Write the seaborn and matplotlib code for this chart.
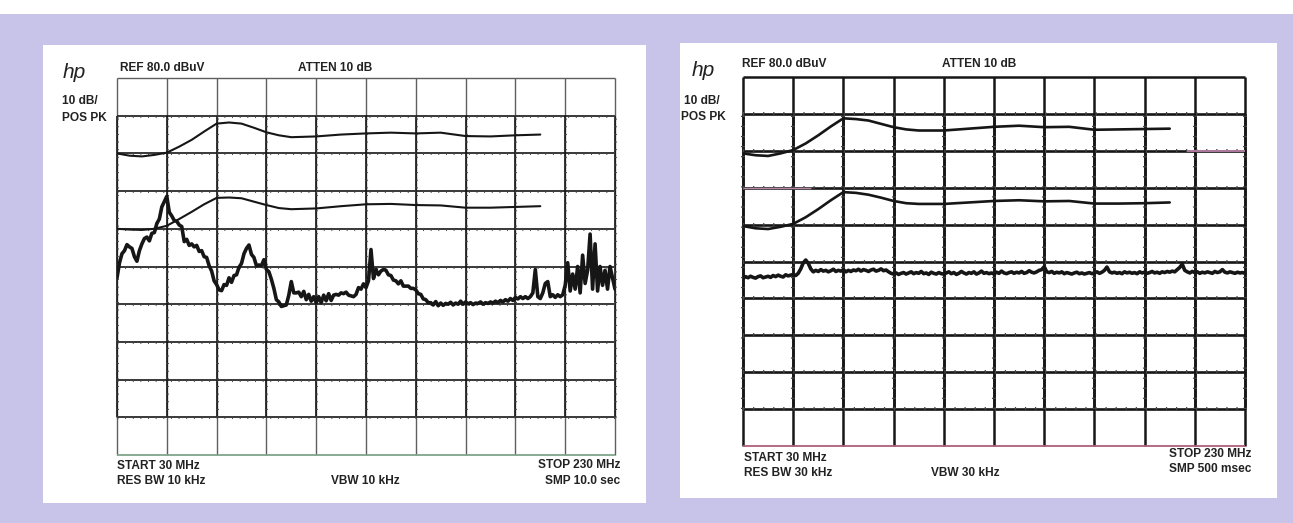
import numpy as np
import pandas as pd
import matplotlib
matplotlib.use("Agg")
import matplotlib.pyplot as plt
import seaborn as sns
from matplotlib.patches import Rectangle

# ---------------- data ----------------
freq_ticks = [30, 50, 70, 90, 110, 130, 150, 170, 190, 210, 230]      # MHz, 20 MHz/div
level_ticks = [-20, -10, 0, 10, 20, 30, 40, 50, 60, 70, 80]          # dBuV, 10 dB/div

limit_freq = [30, 35, 40, 45, 50, 55, 60, 65, 70, 75, 80, 85, 90, 95, 100,
              110, 120, 130, 140, 150, 160, 170, 180, 190, 200]

left_limit_upper = [60.0, 59.4, 59.2, 59.6, 60.2, 61.8, 63.6, 65.8, 67.9, 68.2, 67.9, 66.8, 65.6, 64.8, 64.3,
                    64.5, 65.0, 65.3, 65.5, 65.3, 65.5, 64.6, 64.5, 64.8, 65.0]
left_limit_lower = [40.0, 39.8, 39.7, 40.0, 40.8, 42.6, 44.5, 46.5, 48.2, 48.3, 48.1, 47.2, 46.3, 45.5, 45.2,
                    45.4, 46.0, 46.5, 46.6, 46.3, 46.2, 45.6, 45.6, 45.8, 46.0]

right_limit_upper = [59.3, 58.8, 58.6, 59.3, 60.2, 62.0, 64.2, 66.6, 68.8, 68.6, 68.2, 67.3, 66.4, 65.8, 65.5,
                     65.5, 66.0, 66.5, 66.8, 66.4, 66.5, 65.7, 65.8, 65.9, 66.0]
right_limit_lower = [39.6, 39.0, 38.8, 39.4, 40.2, 42.0, 44.2, 46.6, 48.8, 48.6, 48.1, 47.3, 46.4, 45.8, 45.6,
                     45.6, 46.0, 46.4, 46.6, 46.3, 46.4, 45.7, 45.7, 45.8, 46.0]

# sweep traces, one point per MHz from 30 to 230 MHz
left_trace = [
    27.0, 31.0, 33.4, 34.2, 35.8, 35.2, 34.8, 32.6, 31.4, 34.2,
    36.0, 37.4, 37.8, 36.8, 38.8, 39.0, 41.4, 42.6, 45.8, 47.2,
    48.6, 44.4, 43.4, 42.2, 42.0, 41.0, 40.6, 36.6, 37.2, 35.6,
    36.0, 35.2, 35.6, 34.0, 34.2, 32.6, 32.4, 30.2, 28.8, 26.2,
    25.2, 23.8, 23.6, 25.2, 25.0, 27.0, 25.8, 27.6, 27.8, 29.8,
    30.8, 33.4, 34.8, 35.7, 33.2, 32.4, 30.2, 30.4, 30.2, 31.8,
    29.2, 28.6, 26.6, 24.2, 21.2, 20.6, 19.4, 19.6, 19.8, 22.4,
    26.0, 23.0, 23.0, 23.2, 22.0, 23.4, 21.2, 22.6, 20.8, 22.0,
    20.4, 22.0, 20.4, 22.4, 20.9, 22.8, 21.0, 22.4, 22.6, 22.4,
    23.0, 22.8, 23.2, 22.4, 22.2, 22.0, 22.6, 24.4, 24.0, 25.4,
    24.4, 26.2, 34.5, 26.8, 29.2, 27.8, 28.8, 29.2, 29.0, 27.8,
    27.6, 26.4, 26.2, 25.4, 26.2, 24.8, 24.8, 24.8, 24.2, 24.2,
    23.8, 22.8, 22.6, 21.4, 21.2, 20.4, 20.4, 19.8, 20.7, 19.6,
    20.3, 19.7, 20.2, 20.0, 20.5, 19.8, 20.3, 20.0, 20.8, 20.0,
    20.6, 20.1, 20.4, 19.9, 20.3, 20.2, 20.6, 20.0, 20.4, 20.2,
    20.6, 20.3, 20.8, 20.4, 21.0, 20.6, 21.2, 20.8, 21.5, 21.0,
    21.8, 21.4, 22.0, 21.5, 22.0, 21.5, 22.0, 23.0, 29.2, 22.0,
    21.5, 23.0, 25.5, 26.0, 22.0, 22.5, 21.8, 22.5, 22.0, 22.5,
    25.0, 31.0, 23.5, 28.0, 24.0, 30.0, 23.0, 33.0, 25.5, 29.0,
    38.6, 24.0, 36.0, 23.5, 30.0, 25.0, 29.0, 24.0, 30.0, 27.0,
    24.0]

right_trace = [
    25.4, 25.9, 25.6, 26.0, 25.7, 25.5, 25.9, 26.1, 25.6, 25.8,
    26.0, 25.7, 26.2, 25.9, 26.3, 26.0, 25.8, 26.4, 26.1, 26.3,
    26.5, 26.2, 26.8, 28.0, 29.6, 30.4, 29.5, 28.0, 27.2, 27.6,
    27.3, 27.8, 27.4, 27.6, 27.2, 27.5, 27.9, 27.3, 27.6, 27.4,
    27.8, 27.2, 27.6, 27.3, 27.7, 27.5, 27.9, 27.4, 27.8, 27.6,
    27.3, 27.7, 27.9, 27.4, 27.6, 28.0, 27.5, 27.7, 27.2, 26.8,
    26.6, 26.9, 26.5, 26.8, 27.0, 26.6, 26.9, 27.2, 26.7, 27.0,
    26.8, 27.3, 26.7, 26.9, 26.5, 27.1, 26.8, 26.6, 27.0, 26.7,
    26.6, 26.9, 27.2, 26.7, 27.0, 26.5, 26.8, 27.3, 26.9, 26.6,
    27.0, 26.8, 27.2, 26.6, 26.9, 27.4, 26.8, 27.0, 26.7, 26.9,
    26.6, 27.1, 26.8, 27.4, 26.9, 26.7, 27.0, 27.2, 26.8, 27.1,
    26.9, 27.3, 26.8, 27.0, 27.5, 27.1, 26.9, 27.2, 27.6, 27.8,
    28.6, 27.2, 27.0, 27.3, 26.8, 27.1, 26.9, 27.2, 26.7, 27.0,
    26.8, 26.6, 26.9, 27.1, 26.7, 26.9, 26.6, 26.8, 27.0, 26.7,
    26.9, 27.2, 26.8, 27.1, 27.6, 28.5, 27.2, 26.9, 27.1, 26.8,
    27.0, 26.7, 27.2, 26.9, 27.1, 26.8, 27.0, 26.7, 27.2, 26.9,
    27.1, 26.8, 27.0, 27.3, 26.9, 27.1, 26.8, 27.2, 27.0, 27.3,
    27.1, 27.4, 27.2, 27.8, 28.4, 29.3, 27.6, 27.2, 26.9, 27.3,
    27.0, 27.2, 26.8, 27.1, 26.9, 27.2, 27.0, 26.8, 27.3, 27.0,
    27.2, 27.8, 27.1, 26.9, 27.2, 27.0, 26.8, 27.1, 26.9, 27.0,
    26.8]

left_header = ["REF 80.0 dBuV", "ATTEN 10 dB", "10 dB/", "POS PK"]
left_footer = ["START 30 MHz", "RES BW 10 kHz", "VBW 10 kHz", "STOP 230 MHz", "SMP 10.0 sec"]
right_header = ["REF 80.0 dBuV", "ATTEN 10 dB", "10 dB/", "POS PK"]
right_footer = ["START 30 MHz", "RES BW 30 kHz", "VBW 30 kHz", "STOP 230 MHz", "SMP 500 msec"]

# ---------------- figure ----------------
sns.set_theme(style="white")
plt.rcParams['font.family'] = ['Liberation Sans', 'DejaVu Sans']

W, H = 1293, 523
LAV = "#c7c3e9"
INK = "#161616"
fig = plt.figure(figsize=(W / 100, H / 100), dpi=100)
fig.patch.set_facecolor(LAV)


def fx(x):
    return x / W


def fy(y):
    return 1 - y / H


def rect(x0, y0, x1, y1, color):
    fig.patches.append(Rectangle((fx(x0), fy(y1)), (x1 - x0) / W, (y1 - y0) / H,
                                 transform=fig.transFigure, facecolor=color,
                                 edgecolor="none", zorder=-5))


rect(0, 0, W, 14, "white")          # white strip at top of scan
rect(43, 45, 646, 503, "white")     # left panel
rect(680, 43, 1277, 498, "white")   # right panel


def panel(box, traces, limits, grid_lw, lim_lw, trace_lw, edge_tint, outer_color, outer_lw):
    x0, y0, x1, y1 = box
    ax = fig.add_axes([fx(x0), fy(y1), (x1 - x0) / W, (y1 - y0) / H])
    ax.set_zorder(5)
    ax.patch.set_alpha(0)
    for s in ax.spines.values():
        s.set_visible(False)
    ax.set_xlim(freq_ticks[0], freq_ticks[-1])
    ax.set_ylim(level_ticks[0], level_ticks[-1])
    ax.set_xticks([])
    ax.set_yticks([])
    # outer box extension rows
    ax.vlines(freq_ticks, level_ticks[0], level_ticks[-1], color=outer_color, lw=outer_lw, clip_on=False, zorder=1)
    ax.hlines([level_ticks[-1]], freq_ticks[0], freq_ticks[-1], color=outer_color,
              lw=outer_lw, clip_on=False, zorder=1)
    ax.hlines([level_ticks[0]], freq_ticks[0], freq_ticks[-1], color=edge_tint,
              lw=1.3, clip_on=False, zorder=1)
    # main graticule
    ax.vlines(freq_ticks, level_ticks[1], level_ticks[-2], color=INK, lw=grid_lw, clip_on=False, zorder=2)
    ax.hlines(level_ticks[1:-1], freq_ticks[0], freq_ticks[-1], color=INK, lw=grid_lw, clip_on=False, zorder=2)
    # graticule minor-tick texture
    ax.vlines(freq_ticks, level_ticks[1], level_ticks[-2], color="#444444", lw=grid_lw + 1.0,
              linestyles=(0, (0.3, 2.2)), clip_on=False, zorder=2)
    ax.hlines(level_ticks[1:-1], freq_ticks[0], freq_ticks[-1], color="#444444", lw=grid_lw + 1.0,
              linestyles=(0, (0.3, 2.2)), clip_on=False, zorder=2)
    for lim in limits:
        sns.lineplot(x=limit_freq, y=lim, ax=ax, color=INK, lw=lim_lw, legend=False, zorder=3)
    for tr in traces:
        f = np.linspace(freq_ticks[0], freq_ticks[-1], len(tr))
        sns.lineplot(x=f, y=tr, ax=ax, color=INK, lw=trace_lw, legend=False, zorder=4)
    ax.set_xlabel("")
    ax.set_ylabel("")
    return ax


panel((117, 78, 615, 455), [left_trace], [left_limit_upper, left_limit_lower],
      1.2, 1.5, 2.6, "#7fa58a", "#5e5e5e", 1.0)
axr = panel((743, 77, 1245, 446), [right_trace], [right_limit_upper, right_limit_lower],
            1.9, 1.9, 2.6, "#b0607a", INK, 1.8)
# scanner colour fringes on the right screen
axr.hlines([level_ticks[7]], freq_ticks[0], freq_ticks[1] + 7, color="#b98aa8", lw=1.0, clip_on=False, zorder=2.5)
axr.hlines([level_ticks[8]], freq_ticks[-2] - 3, freq_ticks[-1], color="#b07a9e", lw=1.4, clip_on=False, zorder=2.5)

FS = 8.6
TXT = "#222222"


def t(x, y, s, ha="left", **kw):
    fig.text(fx(x), fy(y), s, ha=ha, va="center", fontsize=FS, fontweight="bold", color=TXT, **kw)


def hp(x, y):
    fig.text(fx(x), fy(y), "hp", ha="left", va="center", fontsize=15, fontstyle="italic",
             family=["Liberation Sans"], color=TXT)


# left panel texts
hp(63, 72)
t(120, 68, left_header[0])
t(298, 68, left_header[1])
t(62, 101, left_header[2])
t(62, 118, left_header[3])
t(117, 466, left_footer[0])
t(117, 481, left_footer[1])
t(331, 481, left_footer[2])
t(620, 465, left_footer[3], ha="right")
t(620, 481, left_footer[4], ha="right")

# right panel texts
hp(692, 70)
t(742, 64, right_header[0])
t(942, 64, right_header[1])
t(684, 101, right_header[2])
t(681, 117, right_header[3])
t(744, 458, right_footer[0])
t(744, 473, right_footer[1])
t(931, 473, right_footer[2])
t(1251, 454, right_footer[3], ha="right")
t(1251, 469, right_footer[4], ha="right")

fig.savefig("out.png", dpi=100, facecolor=fig.get_facecolor())
